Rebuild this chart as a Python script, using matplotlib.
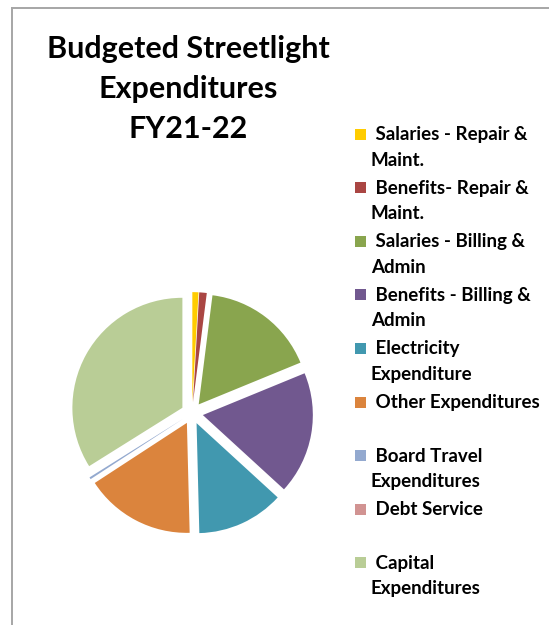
import matplotlib.pyplot as plt
from matplotlib.patches import Rectangle
from matplotlib.lines import Line2D

plt.rcParams['font.family'] = ['Lato', 'DejaVu Sans']

labels = ['Salaries - Repair &\nMaint.', 'Benefits- Repair &\nMaint.',
          'Salaries - Billing &\nAdmin', 'Benefits - Billing &\nAdmin',
          'Electricity\nExpenditure', 'Other Expenditures',
          'Board Travel\nExpenditures', 'Debt Service',
          'Capital\nExpenditures']
shares = [0.9, 1.1, 16.8, 18.0, 12.8, 16.2, 0.3, 0.0, 33.9]
colors = ['#FFCC00', '#AA4643', '#89A54E', '#71588F', '#4198AF',
          '#DB843D', '#93A9CF', '#D19392', '#B9CD96']

W, H = 549, 625
fig = plt.figure(figsize=(W / 100, H / 100), dpi=100)

def fx(x):
    return x / W

def fy(y):
    return 1 - y / H

# chart area border
fig.add_artist(Line2D([fx(11.5), fx(11.5)], [fy(7.5), 0], color='#A6A6A6', lw=1.4))
fig.add_artist(Line2D([fx(11.5), 1], [fy(7.5), fy(7.5)], color='#A6A6A6', lw=1.4))

fig.text(fx(188), fy(35), 'Budgeted Streetlight\nExpenditures\nFY21-22',
         ha='center', va='top', fontsize=22, fontweight='bold', linespacing=1.53)

ax = fig.add_axes([0.0993, 0.119, 0.5009, 0.44])
ax.pie(shares, colors=colors, startangle=90, counterclock=False,
       explode=[0.1] * len(shares), radius=1.0)
ax.set_xlim(-1.25, 1.25)
ax.set_ylim(-1.25, 1.25)
ax.set_aspect('equal')
ax.axis('off')

# legend
for i, (lab, c) in enumerate(zip(labels, colors)):
    yc = 134 + i * 53.6
    fig.add_artist(Rectangle((fx(355), fy(yc + 5.5)), 11 / W, 11 / H,
                             facecolor=c, edgecolor='none'))
    fig.text(fx(371), fy(yc - 8), ' ' + lab, ha='left', va='top',
             fontsize=13.5, fontweight='bold', linespacing=1.62)

fig.savefig('out.png', dpi=100)
